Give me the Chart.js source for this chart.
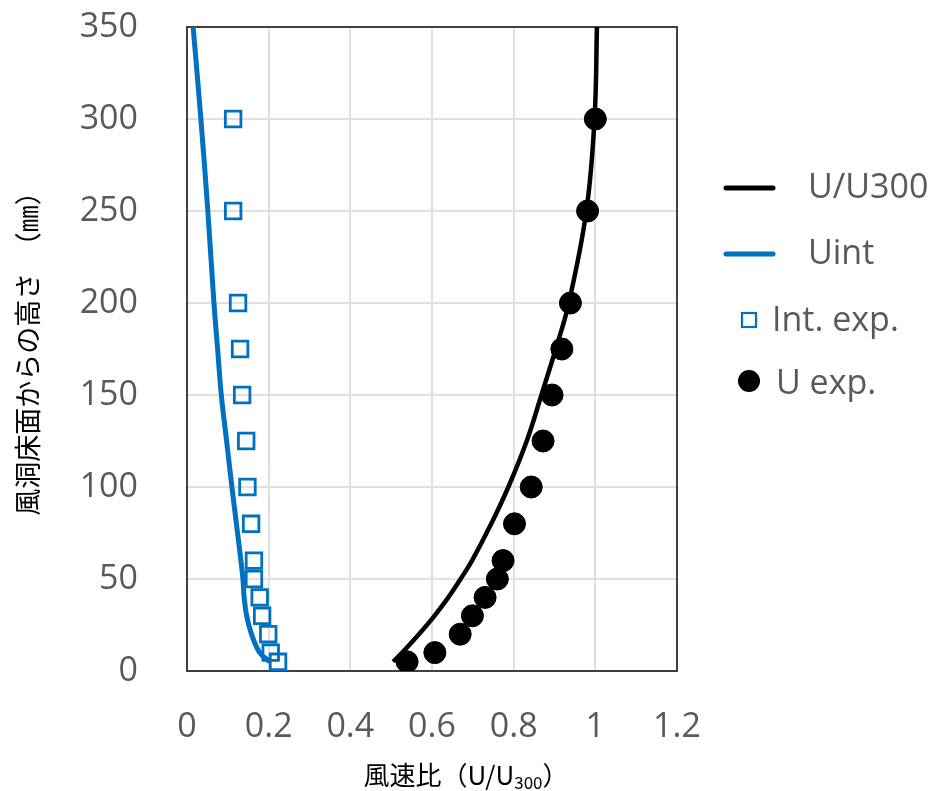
<!DOCTYPE html>
<html>
<head>
<meta charset="utf-8">
<script src="https://cdn.jsdelivr.net/npm/chart.js@4.4.1/dist/chart.umd.min.js"></script>
<style>
  html, body { margin: 0; padding: 0; background: #fff; }
  canvas { display: block; }
</style>
</head>
<body>
<canvas id="profileChart" width="944" height="791"></canvas>
<script>
// ── Values ──────────────────────────────────────────────────
const lineHeights = [5, 10, 20, 30, 40, 50, 60, 80, 100, 125, 150, 175, 200, 250, 300, 350];
const uRatioLine  = [0.505, 0.527, 0.568, 0.606, 0.640, 0.670, 0.698, 0.745, 0.787, 0.832, 0.868, 0.903, 0.935, 0.978, 0.998, 1.004];
const uIntLine    = [0.203, 0.178, 0.158, 0.146, 0.140, 0.137, 0.132, 0.121, 0.110, 0.097, 0.084, 0.075, 0.066, 0.051, 0.034, 0.015];

const expHeights = [5, 10, 20, 30, 40, 50, 60, 80, 100, 125, 150, 175, 200, 250, 300];
const intExp     = [0.223, 0.205, 0.199, 0.184, 0.178, 0.164, 0.164, 0.157, 0.148, 0.145, 0.135, 0.130, 0.125, 0.113, 0.113];
const uExp       = [0.539, 0.607, 0.669, 0.699, 0.730, 0.760, 0.774, 0.802, 0.843, 0.872, 0.894, 0.918, 0.939, 0.981, 1.000];

const xTickValues = [0, 0.2, 0.4, 0.6, 0.8, 1, 1.2];
const xTickLabels = ['0', '0.2', '0.4', '0.6', '0.8', '1', '1.2'];
const yTickValues = [0, 50, 100, 150, 200, 250, 300, 350];
const seriesNames = ['U/U300', 'Uint', 'Int. exp.', 'U exp.'];

const BLUE = '#0070C0';
const TEXT_GREY = '#595959';
const CJK = '"Noto Sans CJK JP", sans-serif';

const toPoints = (xs, ys) => xs.map((x, i) => ({ x: x, y: ys[i] }));

// ── Frame, legend and axis titles drawn by hand ─────────────
const decorations = {
    id: 'decorations',
    beforeDatasetsDraw(chart) {
        const { ctx, chartArea: a } = chart;
        ctx.save();
        ctx.strokeStyle = '#404040';
        ctx.lineWidth = 2;
        ctx.strokeRect(a.left, a.top, a.right - a.left, a.bottom - a.top);
        ctx.restore();
    },
    afterDraw(chart) {
        const { ctx } = chart;
        const ds = chart.data.datasets;
        ctx.save();

        // legend
        ctx.font = '34px "Open Sans"';
        ctx.fillStyle = TEXT_GREY;
        ctx.textBaseline = 'middle';
        ctx.textAlign = 'left';

        // line samples
        [[0, 188], [1, 254]].forEach(([i, y]) => {
            ctx.strokeStyle = ds[i].borderColor;
            ctx.lineWidth = 5;
            ctx.lineCap = 'round';
            ctx.beginPath();
            ctx.moveTo(726, y);
            ctx.lineTo(773, y);
            ctx.stroke();
            ctx.fillText(ds[i].label, 808, y);
        });

        // square marker
        ctx.strokeStyle = ds[2].borderColor;
        ctx.lineWidth = 2.2;
        ctx.strokeRect(742, 313, 14, 14);
        ctx.fillText(ds[2].label, 772, 321);

        // circle marker
        ctx.fillStyle = '#000';
        ctx.beginPath();
        ctx.arc(749, 381, 11, 0, Math.PI * 2);
        ctx.fill();
        ctx.fillStyle = TEXT_GREY;
        ctx.fillText(ds[3].label, 776, 384);

        // x title with subscript
        ctx.fillStyle = '#000';
        const main = '風速比（U/U';
        const sub = '300';
        const tail = '）';
        ctx.font = '26px ' + CJK;
        const wMain = ctx.measureText(main).width;
        const wTail = ctx.measureText(tail).width;
        ctx.font = '17px ' + CJK;
        const wSub = ctx.measureText(sub).width;
        let x = 466 - (wMain + wSub + wTail) / 2;
        ctx.textBaseline = 'alphabetic';
        ctx.font = '26px ' + CJK;
        ctx.fillText(main, x, 785);
        x += wMain;
        ctx.font = '17px ' + CJK;
        ctx.fillText(sub, x, 789);
        x += wSub;
        ctx.font = '26px ' + CJK;
        ctx.fillText(tail, x, 785);

        // y title
        ctx.translate(28, 347);
        ctx.rotate(-Math.PI / 2);
        ctx.textAlign = 'center';
        ctx.textBaseline = 'middle';
        ctx.font = '27px ' + CJK;
        ctx.fillText('風洞床面からの高さ　（㎜）', 0, 0);

        ctx.restore();
    }
};

const ctx = document.getElementById('profileChart').getContext('2d');
new Chart(ctx, {
    type: 'scatter',
    data: {
        datasets: [{
            label: seriesNames[0],
            data: toPoints(uRatioLine, lineHeights),
            showLine: true,
            borderColor: '#000000',
            borderWidth: 4.5,
            pointRadius: 0,
            tension: 0.4
        },
        {
            label: seriesNames[1],
            data: toPoints(uIntLine, lineHeights),
            showLine: true,
            borderColor: BLUE,
            borderWidth: 5,
            pointRadius: 0,
            tension: 0.4
        },
        {
            label: seriesNames[2],
            data: toPoints(intExp, expHeights),
            pointStyle: 'rect',
            pointRadius: 11,
            pointBorderWidth: 2.8,
            borderColor: BLUE,
            backgroundColor: 'rgba(255,255,255,0)'
        },
        {
            label: seriesNames[3],
            data: toPoints(uExp, expHeights),
            pointStyle: 'circle',
            pointRadius: 11,
            borderColor: '#000000',
            backgroundColor: '#000000'
        }
        ]
    },
    options: {
        responsive: false,
        animation: false,
        layout: {
            padding: { left: 0, right: 267, top: 27, bottom: 0 }
        },
        plugins: {
            legend: { display: false },
            tooltip: { enabled: false }
        },
        scales: {
            x: {
                type: 'linear',
                min: 0,
                max: 1.2,
                afterBuildTicks: scale => { scale.ticks = xTickValues.map(v => ({ value: v })); },
                afterFit: scale => {
                    scale.height = 120;
                    scale.paddingLeft = 0;
                    scale.paddingRight = 0;
                },
                grid: {
                    color: '#e0e0e0',
                    lineWidth: 2,
                    drawTicks: false
                },
                border: { display: false },
                ticks: {
                    color: TEXT_GREY,
                    font: { family: 'Open Sans', size: 34 },
                    padding: 36,
                    maxRotation: 0,
                    callback: (value, i) => xTickLabels[i]
                }
            },
            y: {
                type: 'linear',
                min: 0,
                max: 350,
                afterBuildTicks: scale => { scale.ticks = yTickValues.map(v => ({ value: v })); },
                afterFit: scale => {
                    scale.width = 187;
                    scale.paddingTop = 0;
                    scale.paddingBottom = 0;
                },
                grid: {
                    color: '#e0e0e0',
                    lineWidth: 2,
                    drawTicks: false
                },
                border: { display: false },
                ticks: {
                    color: TEXT_GREY,
                    font: { family: 'Open Sans', size: 34 },
                    padding: 49
                }
            }
        }
    },
    plugins: [decorations]
});
</script>
</body>
</html>
